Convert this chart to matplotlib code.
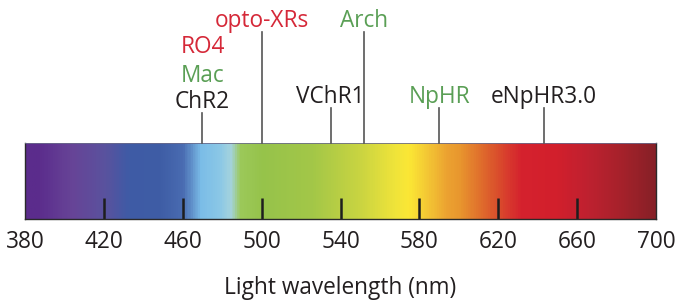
import matplotlib
matplotlib.use("Agg")
import matplotlib.pyplot as plt
import numpy as np
from matplotlib.colors import LinearSegmentedColormap

# opsin labels and the wavelength they point to (nm)
opsins = ["ChR2", "Mac", "RO4", "opto-XRs", "VChR1", "Arch", "NpHR", "eNpHR3.0"]
peaks = [470, 470, 470, 500, 535, 552, 590, 643]
kinds = ["channel", "pump", "gpcr", "gpcr", "channel", "pump", "pump", "channel"]

# axis ticks
tick_nm = [380, 420, 460, 500, 540, 580, 620, 660, 700]

# colour stops of the spectrum bar (nm, colour)
spectrum_nm = [380, 386, 403, 420, 432, 448, 460, 469, 479, 484, 489, 500, 526,
               551, 568, 575, 585, 594, 601, 616, 632, 650, 666, 683, 700]
spectrum_col = ["#5b2c8c", "#5b2c8c", "#674497", "#5a529e", "#3f5ba6", "#3e5da5",
                "#4a6cb2", "#7bbde8", "#8cc8e6", "#a4d3de", "#9cc95a", "#96c34b",
                "#a3c748", "#cbd541", "#f0e43a", "#fbe735", "#f3c534", "#eca331",
                "#e8962e", "#dc5d2c", "#d5222e", "#d21f2c", "#bf2130", "#a6222b",
                "#872027"]

kind_colors = {"channel": "#231f20", "pump": "#5a9f55", "gpcr": "#d52838"}
# label baseline heights (in bar heights above the bar bottom)
label_y = [1.46, 1.80, 2.18, 2.53, 1.526, 2.53, 1.526, 1.526]

plt.rcParams["font.family"] = ["Open Sans", "DejaVu Sans"]
FS = 16.3

fig = plt.figure(figsize=(6.75, 3.01), dpi=100)
ax = fig.add_axes([25 / 675, 1 - 219 / 301, 631 / 675, 76 / 301])

lo, hi = spectrum_nm[0], spectrum_nm[-1]
pos = [(v - lo) / (hi - lo) for v in spectrum_nm]
cmap = LinearSegmentedColormap.from_list("spec", list(zip(pos, spectrum_col)))
grad = np.linspace(0, 1, 800).reshape(1, -1)
ax.imshow(grad, cmap=cmap, aspect="auto", extent=[lo, hi, 0, 1], zorder=0)
ax.set_xlim(lo, hi)
ax.set_ylim(0, 1)

for s in ax.spines.values():
    s.set_color("#2a2a2a")
    s.set_linewidth(1.0)
ax.spines["top"].set_color("#6a6a8a")
ax.spines["top"].set_linewidth(0.6)

ax.set_yticks([])
ax.set_xticks(tick_nm)
ax.set_xticklabels([str(t) for t in tick_nm])
ax.tick_params(axis="x", direction="in", length=15, width=1.8, color="#1e1e1e",
               pad=8, labelsize=FS, labelcolor="#231f20")
# no tick marks on the two ends of the bar
for t in (ax.xaxis.get_major_ticks()[0], ax.xaxis.get_major_ticks()[-1]):
    t.tick1line.set_visible(False)
ax.set_xlabel("Light wavelength (nm)", fontsize=FS, color="#231f20", labelpad=16)

# pointer lines, one per distinct wavelength, up to just below the lowest label
for nm in sorted(set(peaks)):
    lowest = min(y for p, y in zip(peaks, label_y) if p == nm)
    ax.plot([nm, nm], [1, lowest - 0.07], color="#555555", lw=1.2,
            clip_on=False, zorder=3)

for name, nm, kind, y in zip(opsins, peaks, kinds, label_y):
    ax.text(nm, y, name, ha="center", va="baseline", fontsize=FS,
            color=kind_colors[kind], clip_on=False)

fig.savefig("out.png", dpi=100)
